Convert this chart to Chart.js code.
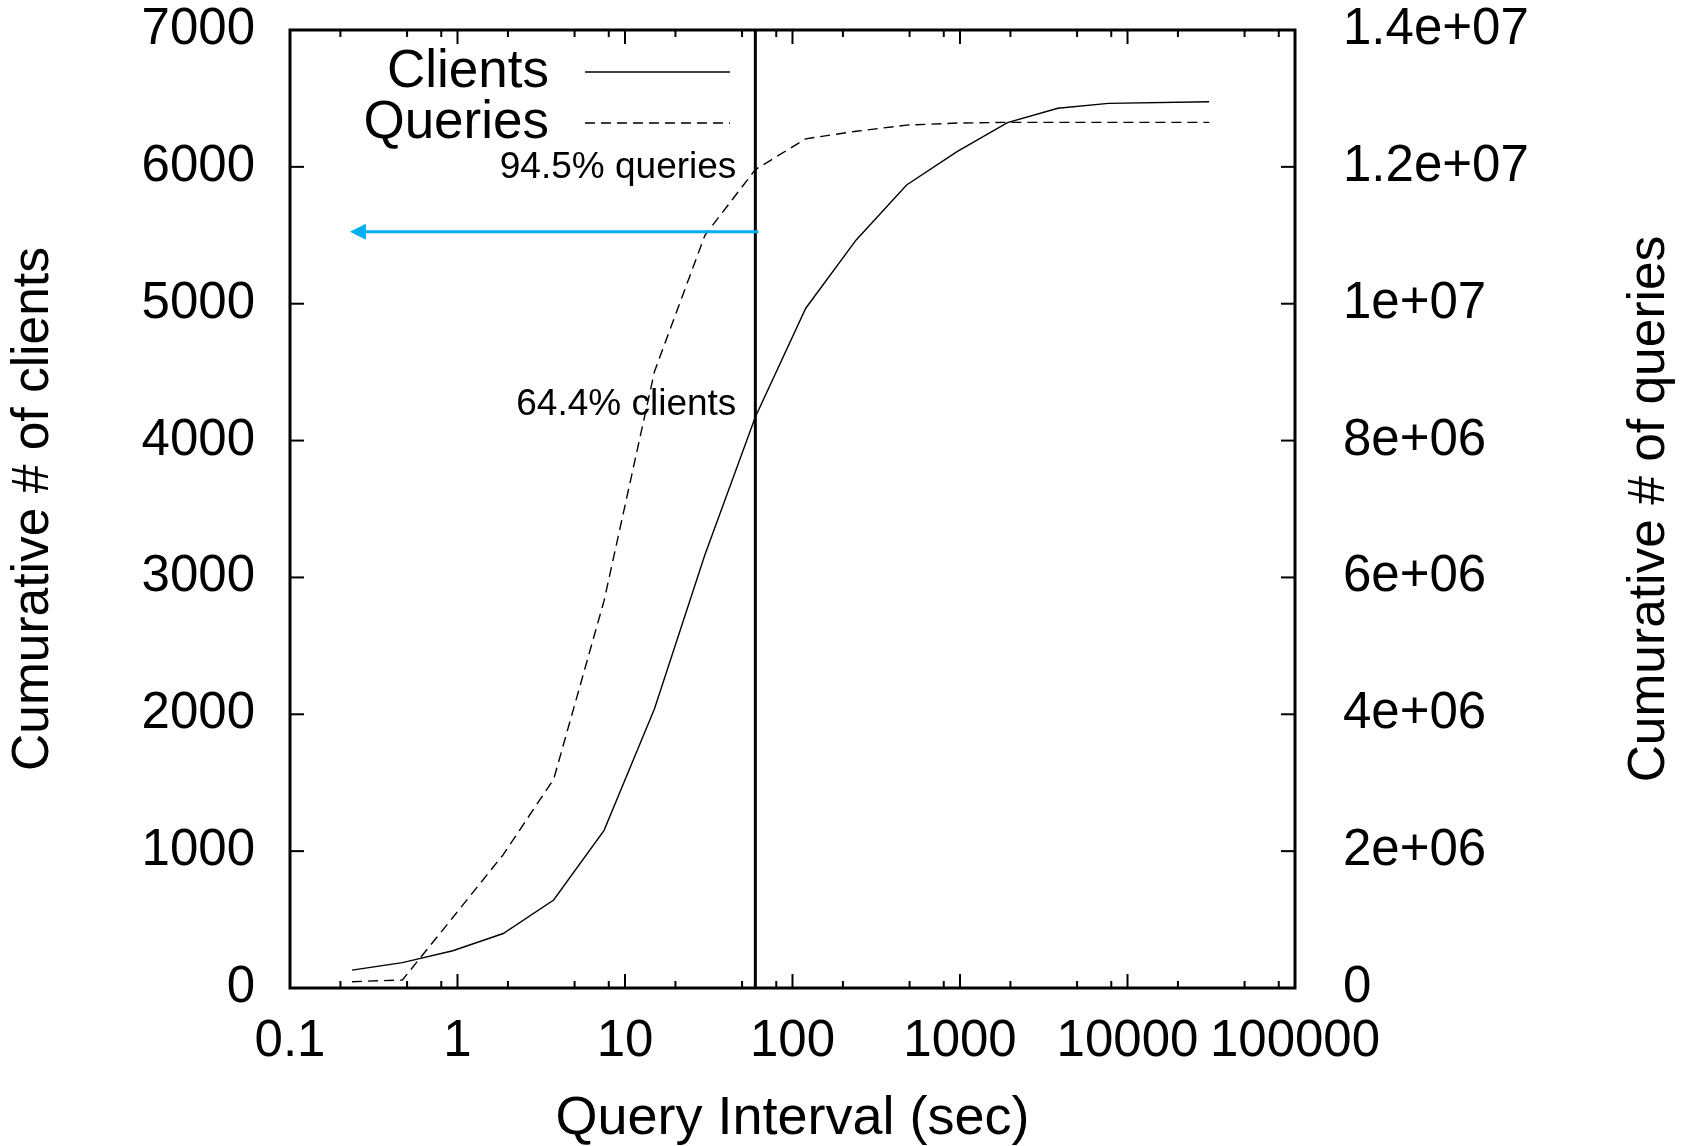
<!DOCTYPE html>
<html>
<head>
<meta charset="utf-8">
<script src="https://cdn.jsdelivr.net/npm/chart.js@4.4.1/dist/chart.umd.min.js"></script>
<style>
html,body{margin:0;padding:0;background:#ffffff;}
canvas{display:block;}
</style>
</head>
<body>
<canvas id="c" width="1694" height="1146"></canvas>
<script>
// ---------- data ----------
const intervals = [0.234375, 0.46875, 0.9375, 1.875, 3.75, 7.5, 15, 30, 60, 120, 240, 480, 960, 1920, 3840, 7680, 30720];
const clients = [131, 185, 272, 398, 643, 1152, 2041, 3165, 4172, 4967, 5466, 5868, 6111, 6323, 6428, 6464, 6476];
const queries = [92000, 117000, 1030000, 1950000, 3050000, 5660000, 9010000, 11000000, 11960000, 12410000, 12520000, 12610000, 12640000, 12650000, 12650000, 12650000, 12650000];
const seriesNames = ['Clients', 'Queries'];

const xTickValues = [0.1, 1, 10, 100, 1000, 10000, 100000];
const xTickLabels = ['0.1', '1', '10', '100', '1000', '10000', '100000'];
const xMinorMantissas = [2, 5, 8];
const yTickValues = [0, 1000, 2000, 3000, 4000, 5000, 6000, 7000];
const yTickLabels = ['0', '1000', '2000', '3000', '4000', '5000', '6000', '7000'];
const y2TickValues = [0, 2000000, 4000000, 6000000, 8000000, 10000000, 12000000, 14000000];
const y2TickLabels = ['0', '2e+06', '4e+06', '6e+06', '8e+06', '1e+07', '1.2e+07', '1.4e+07'];

const xTitle = 'Query Interval (sec)';
const yTitles = ['Cumurative # of clients', 'Cumurative # of queries'];

const markerInterval = 60;
const annotationTexts = ['94.5% queries', '64.4% clients'];
const annotationLevels = [5919, 4187];      // on the clients (left) axis
const arrowFromInterval = 60;
const arrowToInterval = 0.228;
const arrowLevel = 5526;                     // on the clients (left) axis

// ---------- styling ----------
const FONT = '"Liberation Sans", Arial, Helvetica, sans-serif';
const BLACK = '#000000';
const ARROW_BLUE = '#00aeef';

const overlay = {
  id: 'overlay',
  afterDatasetsDraw(chart) {
    const {ctx, chartArea: a, scales} = chart;
    const x = scales.x, y = scales.y, y2 = scales.y2;
    ctx.save();
    ctx.strokeStyle = BLACK;
    ctx.fillStyle = BLACK;
    ctx.setLineDash([]);

    // vertical marker at 60 sec
    const mx = x.getPixelForValue(markerInterval);
    ctx.lineWidth = 3;
    ctx.beginPath(); ctx.moveTo(mx, a.top); ctx.lineTo(mx, a.bottom); ctx.stroke();

    // inward tick marks
    ctx.lineWidth = 2;
    const major = 14, minor = 7;
    x.ticks.forEach((t, i) => {
      const px = x.getPixelForValue(t.value);
      ctx.beginPath();
      ctx.moveTo(px, a.bottom); ctx.lineTo(px, a.bottom - major);
      ctx.moveTo(px, a.top); ctx.lineTo(px, a.top + major);
      ctx.stroke();
      if (i < x.ticks.length - 1) {
        xMinorMantissas.forEach(m => {
          const mpx = x.getPixelForValue(t.value * m);
          ctx.beginPath();
          ctx.moveTo(mpx, a.bottom); ctx.lineTo(mpx, a.bottom - minor);
          ctx.moveTo(mpx, a.top); ctx.lineTo(mpx, a.top + minor);
          ctx.stroke();
        });
      }
    });
    y.ticks.forEach(t => {
      const py = y.getPixelForValue(t.value);
      ctx.beginPath(); ctx.moveTo(a.left, py); ctx.lineTo(a.left + major, py); ctx.stroke();
    });
    y2.ticks.forEach(t => {
      const py = y2.getPixelForValue(t.value);
      ctx.beginPath(); ctx.moveTo(a.right, py); ctx.lineTo(a.right - major, py); ctx.stroke();
    });

    // frame
    ctx.lineWidth = 3;
    ctx.strokeRect(a.left, a.top, a.right - a.left, a.bottom - a.top);

    // blue arrow
    const ay = y.getPixelForValue(arrowLevel);
    const ax0 = x.getPixelForValue(arrowFromInterval) + 3;
    const ax1 = x.getPixelForValue(arrowToInterval);
    ctx.strokeStyle = ARROW_BLUE; ctx.fillStyle = ARROW_BLUE;
    ctx.lineWidth = 3;
    ctx.beginPath(); ctx.moveTo(ax0, ay); ctx.lineTo(ax1 + 12, ay); ctx.stroke();
    ctx.beginPath();
    ctx.moveTo(ax1, ay); ctx.lineTo(ax1 + 16, ay - 8); ctx.lineTo(ax1 + 16, ay + 8);
    ctx.closePath(); ctx.fill();

    // annotation texts
    ctx.fillStyle = BLACK;
    ctx.font = '37px ' + FONT;
    ctx.textAlign = 'right';
    ctx.textBaseline = 'alphabetic';
    annotationTexts.forEach((txt, i) => {
      ctx.fillText(txt, mx - 19, y.getPixelForValue(annotationLevels[i]));
    });

    // legend (inside plot, gnuplot style)
    ctx.font = '53px ' + FONT;
    ctx.textBaseline = 'middle';
    ctx.textAlign = 'right';
    const rowsY = [a.top + 42, a.top + 93];
    chart.data.datasets.forEach((ds, i) => {
      ctx.fillStyle = BLACK;
      ctx.fillText(ds.label, a.left + 259, rowsY[i]);
      ctx.strokeStyle = BLACK;
      ctx.lineWidth = ds.borderWidth;
      ctx.setLineDash(ds.borderDash || []);
      ctx.beginPath(); ctx.moveTo(a.left + 295, rowsY[i]); ctx.lineTo(a.left + 440, rowsY[i]); ctx.stroke();
    });
    ctx.setLineDash([]);

    // right axis title (reads upward, like the left one)
    ctx.save();
    ctx.translate(y2.right - 44, (a.top + a.bottom) / 2);
    ctx.rotate(-Math.PI / 2);
    ctx.textAlign = 'center';
    ctx.textBaseline = 'middle';
    ctx.font = '51.5px ' + FONT;
    ctx.fillStyle = BLACK;
    ctx.fillText(yTitles[1], 0, 0);
    ctx.restore();

    ctx.restore();
  }
};

const tickFont = {family: FONT, size: 51, lineHeight: 1.1};
const fixVertical = w => s => { s.width = w; s.paddingTop = 0; s.paddingBottom = 0; };

new Chart(document.getElementById('c'), {
  type: 'line',
  data: {
    datasets: [
      {
        label: seriesNames[0],
        data: intervals.map((v, i) => ({x: v, y: clients[i]})),
        yAxisID: 'y',
        borderColor: BLACK,
        borderWidth: 1.4,
        pointRadius: 0,
        tension: 0,
        fill: false
      },
      {
        label: seriesNames[1],
        data: intervals.map((v, i) => ({x: v, y: queries[i]})),
        yAxisID: 'y2',
        borderColor: BLACK,
        borderWidth: 1.4,
        borderDash: [10, 6],
        pointRadius: 0,
        tension: 0,
        fill: false
      }
    ]
  },
  options: {
    responsive: false,
    animation: false,
    devicePixelRatio: 1,
    layout: {padding: {top: 30, left: 0, right: 0, bottom: 0}},
    plugins: {legend: {display: false}, tooltip: {enabled: false}},
    scales: {
      x: {
        type: 'logarithmic',
        position: 'bottom',
        min: 0.1,
        max: 100000,
        afterBuildTicks: s => { s.ticks = xTickValues.map(v => ({value: v})); },
        afterFit: s => { s.height = 158; s.paddingLeft = 0; s.paddingRight = 0; },
        grid: {display: false, drawTicks: false, tickLength: 0},
        border: {display: false},
        ticks: {
          autoSkip: false, maxRotation: 0, minRotation: 0,
          padding: 26, color: BLACK, font: tickFont,
          callback: (v, i) => xTickLabels[i]
        },
        title: {display: true, text: xTitle, color: BLACK,
                font: {family: FONT, size: 54, lineHeight: 1}, padding: {top: 0, bottom: 0}}
      },
      y: {
        type: 'linear',
        position: 'left',
        min: 0, max: 7000,
        afterBuildTicks: s => { s.ticks = yTickValues.map(v => ({value: v})); },
        afterFit: fixVertical(290),
        grid: {display: false, drawTicks: false, tickLength: 0},
        border: {display: false},
        ticks: {padding: 35, color: BLACK, font: tickFont, callback: (v, i) => yTickLabels[i]},
        title: {display: true, text: yTitles[0], color: BLACK,
                font: {family: FONT, size: 51.5, lineHeight: 1}, padding: {top: 8, bottom: 0}}
      },
      y2: {
        type: 'linear',
        position: 'right',
        min: 0, max: 14000000,
        afterBuildTicks: s => { s.ticks = y2TickValues.map(v => ({value: v})); },
        afterFit: fixVertical(399),
        grid: {display: false, drawTicks: false, tickLength: 0},
        border: {display: false},
        ticks: {padding: 48, color: BLACK, font: tickFont, callback: (v, i) => y2TickLabels[i]},
        title: {display: false}
      }
    }
  },
  plugins: [overlay]
});
</script>
</body>
</html>
